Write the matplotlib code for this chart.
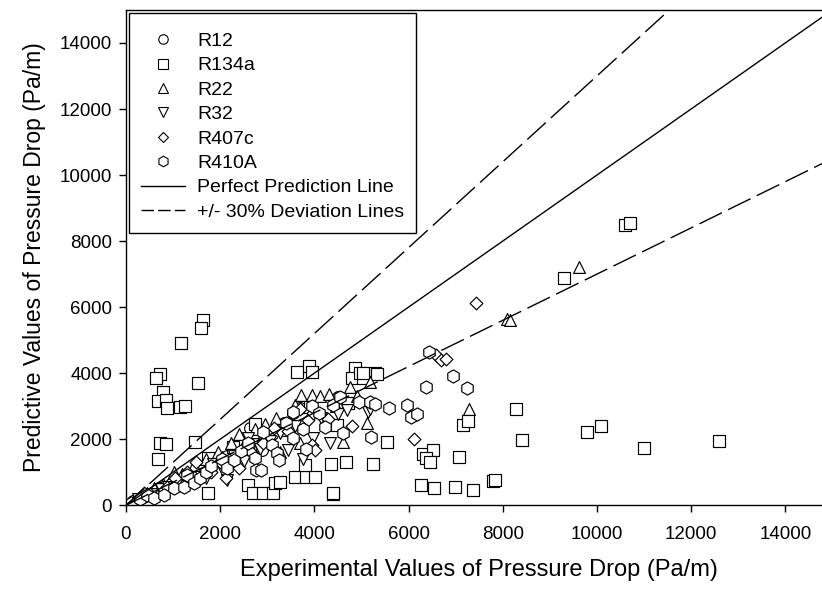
import numpy as np
import matplotlib
matplotlib.use("Agg")
import matplotlib.pyplot as plt
from matplotlib.lines import Line2D

plt.rcParams['font.family'] = ['Liberation Sans', 'DejaVu Sans']

# ---- data (Pa/m) ----
r12_x = [150, 280, 420, 560, 700, 950, 1147, 1380, 1650, 1900, 2150, 2450, 2634, 2883, 3100, 3350, 3552, 4509, 3700]
r12_y = [120, 190, 300, 380, 520, 640, 667, 900, 1150, 1330, 1500, 1900, 2333, 1676, 2150, 2500, 2788, 3291, 2950]

r134a_x = [1642, 1586, 1161, 722, 630, 1536, 793, 687, 850, 864, 1147, 1253, 722, 843, 1466, 673, 1736,
           2598, 2704, 2903, 3115, 3165, 3269, 3588, 3815, 4015, 4389, 4403, 4353, 4671, 5250,
           3626, 3885, 3942, 4864, 4794, 4970, 5040, 5286, 5027, 5322, 2741, 4720, 3908, 4473, 2278, 1750, 3800,
           5548, 6299, 6511, 6380, 6454, 7078, 7163, 7270, 8414, 9794, 10092, 10993, 12597,
           6265, 6541, 6991, 7362, 7800, 7836, 8280, 9300, 10596, 10702]
r134a_y = [5615, 5381, 4927, 3978, 3848, 3697, 3442, 3169, 3191, 2939, 2988, 3009, 1897, 1857, 1927, 1403, 364,
           615, 364, 364, 364, 685, 715, 848, 867, 867, 342, 364, 1242, 1321, 1242,
           4048, 4221, 4048, 4151, 3848, 4000, 3848, 4000, 4018, 3978, 2463, 3091, 2988, 2433, 1776, 1424, 1221,
           1909, 1545, 1676, 1420, 1321, 1473, 2433, 2554, 1979, 2221, 2403, 1736, 1939,
           615, 533, 564, 455, 736, 767, 2909, 6897, 8493, 8545]

r22_x = [180, 320, 450, 600, 780, 1019, 1200, 1450, 1700, 1962, 2224, 2400, 2564, 2750, 2950, 3180, 3412,
         3269, 3600, 3709, 3942, 4119, 4316, 3694, 4613, 4756, 5180, 5110, 4450, 4900, 2050, 2900,
         7290, 8098, 8150, 9618]
r22_y = [160, 270, 380, 520, 650, 1018, 950, 1230, 1400, 1624, 1879, 2150, 2030, 2300, 2450, 2636, 2282,
         1624, 3050, 3342, 3342, 3310, 3372, 1879, 1927, 3594, 3745, 2503, 3000, 3300, 1450, 2150,
         2909, 5636, 5620, 7211]

r32_x = [250, 400, 560, 750, 900, 1090, 1300, 1694, 1850, 2083, 2139, 2300, 2500, 2700, 2850, 3050, 3269,
         3448, 3600, 3764, 3977, 4150, 4331, 4500, 4700, 5144, 5180, 2600]
r32_y = [180, 260, 330, 480, 560, 667, 840, 818, 1250, 970, 767, 1500, 1350, 1850, 1700, 1950, 2200,
         1676, 2400, 1394, 2030, 2650, 1879, 2750, 2900, 2836, 2909, 2050]

r407c_x = [382, 520, 878, 1050, 1300, 1480, 1800, 2000, 2118, 2401, 2650, 2900, 3150, 3450, 3694, 3871,
           3977, 3942, 4015, 4300, 4800, 6114, 6580, 6700, 6800, 7426]
r407c_y = [364, 330, 564, 820, 1000, 1321, 1018, 1300, 818, 1121, 1600, 1900, 2350, 2250, 2909, 2585,
           2788, 1827, 1676, 2600, 2400, 2000, 4550, 4400, 4420, 6121]

r410a_x = [100, 300, 450, 595, 807, 1019, 1233, 1302, 1446, 1571, 1700, 1800, 2050, 2139, 2295, 2450, 2600,
           2741, 2755, 2862, 2917, 3106, 3212, 3250, 3400, 3552, 3550, 3751, 3823, 3950, 4100, 4226, 4400,
           4543, 4613, 4953, 5180, 5195, 5286, 5590, 5959, 6046, 6186, 6364, 6441, 6937, 7242]
r410a_y = [80, 200, 300, 212, 312, 515, 564, 918, 667, 818, 1000, 1200, 1400, 1121, 1373, 1650, 1900,
           1424, 1070, 1070, 2230, 1827, 1576, 1373, 2500, 2836, 2050, 2312, 1697, 3000, 2800, 2382, 3050,
           3291, 2200, 3139, 3139, 2079, 3069, 2939, 3039, 2685, 2757, 3575, 4654, 3918, 3545]

line_x = np.array([0, 15000])

fig = plt.figure(figsize=(8.22, 5.90), dpi=100)
# the original axis runs to 15000 but the picture is cut at ~14780
ax = fig.add_axes([0.1532, 0.1436, 0.8468, 0.8395])

series = [
    (r12_x, r12_y, 'o', 8.5, 'R12'),
    (r134a_x, r134a_y, 's', 8.5, 'R134a'),
    (r22_x, r22_y, '^', 8.5, 'R22'),
    (r32_x, r32_y, 'v', 8.5, 'R32'),
    (r407c_x, r407c_y, 'D', 6.5, 'R407c'),
    (r410a_x, r410a_y, 'h', 9.5, 'R410A'),
]
handles = []
for xs, ys, mk, ms, name in series:
    ax.scatter(xs, ys, s=ms ** 2, marker=mk, facecolors='white', edgecolors='black',
               linewidths=0.85, zorder=2)
    handles.append(Line2D([], [], linestyle='none', marker=mk, markersize=ms * 0.8,
                          markerfacecolor='white', markeredgecolor='black',
                          markeredgewidth=0.8, label=name))

ax.plot(line_x, line_x, color='black', lw=1.0, zorder=3)
ax.plot(line_x, 1.3 * line_x, color='black', lw=1.0, dashes=(18, 5), zorder=3)
ax.plot(line_x, 0.7 * line_x, color='black', lw=1.0, dashes=(18, 5), zorder=3)
handles.append(Line2D([], [], color='black', lw=1.0, label='Perfect Prediction Line'))
handles.append(Line2D([], [], color='black', lw=1.0, dashes=(9, 3), label='+/- 30% Deviation Lines'))

ax.set_xlim(0, 14780)
ax.set_ylim(0, 15000)
ax.set_xticks(np.arange(0, 14001, 2000))
ax.set_yticks(np.arange(0, 14001, 2000))
ax.tick_params(direction='out', length=5, width=1, labelsize=13.5)
ax.tick_params(axis='x', pad=10)
ax.tick_params(axis='y', pad=5)
ax.spines['right'].set_visible(False)
for sp in ['left', 'bottom', 'top']:
    ax.spines[sp].set_linewidth(1.0)

ax.set_xlabel('Experimental Values of Pressure Drop (Pa/m)', fontsize=17)
ax.xaxis.set_label_coords(7500 / 14780, -0.108)
ax.set_ylabel('Predictive Values of Pressure Drop (Pa/m)', fontsize=16.5, labelpad=10)

leg = ax.legend(handles=handles, loc='upper left', bbox_to_anchor=(0, 1), fontsize=14,
                frameon=True, fancybox=False, edgecolor='black', framealpha=1,
                handlelength=2.3, handletextpad=0.6, borderpad=0.6, labelspacing=0.35,
                borderaxespad=0.15, title=' ', title_fontsize=1)
leg.get_frame().set_linewidth(1.0)

fig.savefig('out.png', dpi=100)
